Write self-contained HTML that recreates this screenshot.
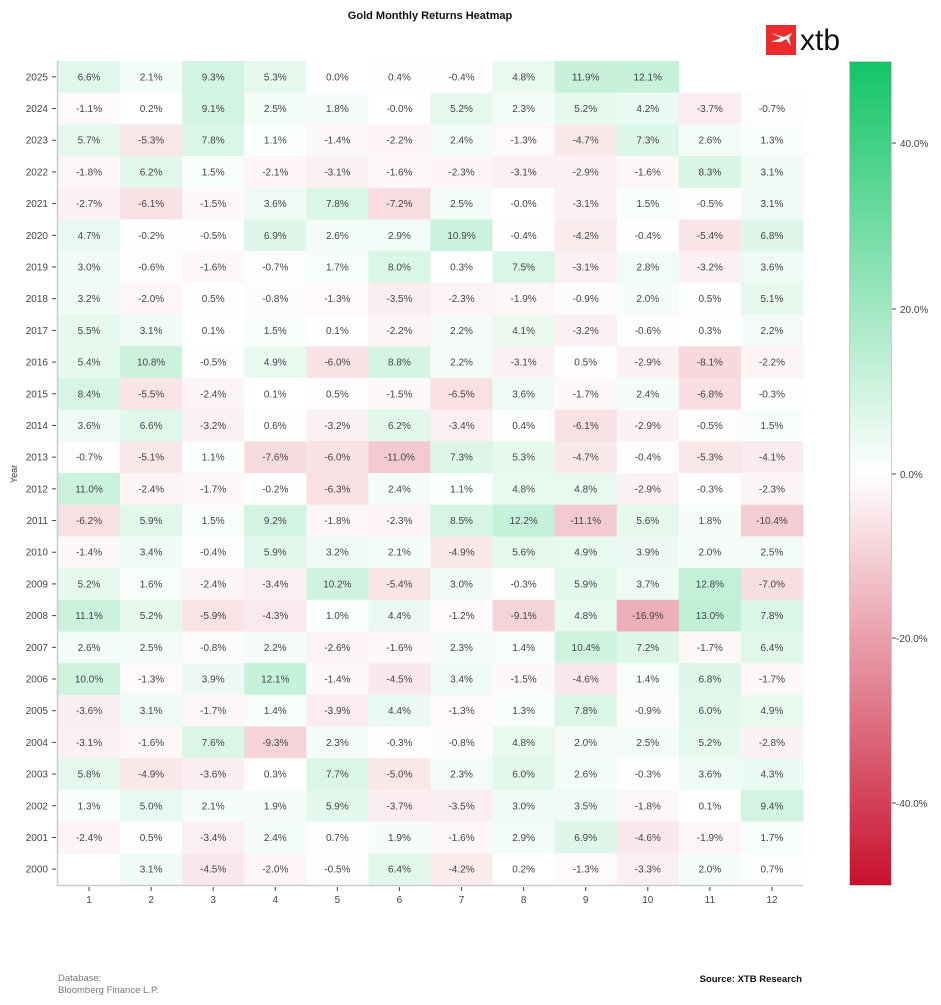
<!DOCTYPE html>
<html><head><meta charset="utf-8"><style>
body{margin:0;background:#fff;}
svg{display:block;font-family:"Liberation Sans",sans-serif;}
</style></head><body>
<svg id="s" width="941" height="1005" xmlns="http://www.w3.org/2000/svg">
<defs><linearGradient id="cb" x1="0" y1="0" x2="0" y2="1">
<stop offset="0" stop-color="#12c466"/><stop offset="0.5" stop-color="#ffffff"/><stop offset="1" stop-color="#c8102e"/></linearGradient></defs>
<text x="430" y="19" text-anchor="middle" font-size="11" font-weight="bold" fill="#111">Gold Monthly Returns Heatmap</text>
<rect x="766" y="25" width="30" height="30" fill="#ee2b2b"/>
<path d="M771 33 L781 38 L771 42 L781 42 L786 39 L791 46 L789 38 L792 33 L784 37 Z" fill="#fff"/>
<text x="800" y="50" font-size="30" fill="#111">xtb</text>
<text transform="translate(17,474) rotate(-90)" text-anchor="middle" font-size="9" fill="#333">Year</text>
<g id="cells"></g>
<line x1="57.5" y1="61" x2="57.5" y2="886" stroke="#ccc" stroke-width="1.5"/>
<line x1="57" y1="885.5" x2="803" y2="885.5" stroke="#ccc" stroke-width="1.5"/>
<rect x="849.5" y="61.5" width="42" height="824" fill="url(#cb)" stroke="#ccc"/>
<g font-size="10" fill="#444">
<line x1="892" y1="143" x2="896" y2="143" stroke="#444"/><text x="900" y="147">40.0%</text>
<line x1="892" y1="309" x2="896" y2="309" stroke="#444"/><text x="900" y="313">20.0%</text>
<line x1="892" y1="474" x2="896" y2="474" stroke="#444"/><text x="900" y="478">0.0%</text>
<line x1="892" y1="638" x2="896" y2="638" stroke="#444"/><text x="896" y="642">-20.0%</text>
<line x1="892" y1="803" x2="896" y2="803" stroke="#444"/><text x="896" y="807">-40.0%</text>
</g>
<text x="58" y="981" font-size="9.5" fill="#777">Database:</text>
<text x="58" y="993" font-size="9.5" fill="#777">Bloomberg Finance L.P.</text>
<text x="802" y="982" text-anchor="end" font-size="9.5" font-weight="bold" fill="#111">Source: XTB Research</text>
</svg>
<script>
var D=[
"6.6,2.1,9.3,5.3,0.0,0.4,-0.4,4.8,11.9,12.1,,",
"-1.1,0.2,9.1,2.5,1.8,-0.0,5.2,2.3,5.2,4.2,-3.7,-0.7",
"5.7,-5.3,7.8,1.1,-1.4,-2.2,2.4,-1.3,-4.7,7.3,2.6,1.3",
"-1.8,6.2,1.5,-2.1,-3.1,-1.6,-2.3,-3.1,-2.9,-1.6,8.3,3.1",
"-2.7,-6.1,-1.5,3.6,7.8,-7.2,2.5,-0.0,-3.1,1.5,-0.5,3.1",
"4.7,-0.2,-0.5,6.9,2.6,2.9,10.9,-0.4,-4.2,-0.4,-5.4,6.8",
"3.0,-0.6,-1.6,-0.7,1.7,8.0,0.3,7.5,-3.1,2.8,-3.2,3.6",
"3.2,-2.0,0.5,-0.8,-1.3,-3.5,-2.3,-1.9,-0.9,2.0,0.5,5.1",
"5.5,3.1,0.1,1.5,0.1,-2.2,2.2,4.1,-3.2,-0.6,0.3,2.2",
"5.4,10.8,-0.5,4.9,-6.0,8.8,2.2,-3.1,0.5,-2.9,-8.1,-2.2",
"8.4,-5.5,-2.4,0.1,0.5,-1.5,-6.5,3.6,-1.7,2.4,-6.8,-0.3",
"3.6,6.6,-3.2,0.6,-3.2,6.2,-3.4,0.4,-6.1,-2.9,-0.5,1.5",
"-0.7,-5.1,1.1,-7.6,-6.0,-11.0,7.3,5.3,-4.7,-0.4,-5.3,-4.1",
"11.0,-2.4,-1.7,-0.2,-6.3,2.4,1.1,4.8,4.8,-2.9,-0.3,-2.3",
"-6.2,5.9,1.5,9.2,-1.8,-2.3,8.5,12.2,-11.1,5.6,1.8,-10.4",
"-1.4,3.4,-0.4,5.9,3.2,2.1,-4.9,5.6,4.9,3.9,2.0,2.5",
"5.2,1.6,-2.4,-3.4,10.2,-5.4,3.0,-0.3,5.9,3.7,12.8,-7.0",
"11.1,5.2,-5.9,-4.3,1.0,4.4,-1.2,-9.1,4.8,-16.9,13.0,7.8",
"2.6,2.5,-0.8,2.2,-2.6,-1.6,2.3,1.4,10.4,7.2,-1.7,6.4",
"10.0,-1.3,3.9,12.1,-1.4,-4.5,3.4,-1.5,-4.6,1.4,6.8,-1.7",
"-3.6,3.1,-1.7,1.4,-3.9,4.4,-1.3,1.3,7.8,-0.9,6.0,4.9",
"-3.1,-1.6,7.6,-9.3,2.3,-0.3,-0.8,4.8,2.0,2.5,5.2,-2.8",
"5.8,-4.9,-3.6,0.3,7.7,-5.0,2.3,6.0,2.6,-0.3,3.6,4.3",
"1.3,5.0,2.1,1.9,5.9,-3.7,-3.5,3.0,3.5,-1.8,0.1,9.4",
"-2.4,0.5,-3.4,2.4,0.7,1.9,-1.6,2.9,6.9,-4.6,-1.9,1.7",
",3.1,-4.5,-2.0,-0.5,6.4,-4.2,0.2,-1.3,-3.3,2.0,0.7"];
var x0=58,y0=61,cw=(803-58)/12,rh=(885-61)/26,h="";
function col(v){var t=Math.min(1,Math.abs(v)/50),c=v>=0?[18,196,102]:[200,16,46];
return "rgb("+c.map(function(k){return Math.round(255-t*(255-k))}).join(",")+")";}
D.forEach(function(r,i){var y=y0+i*rh,yr=2025-i;
h+='<line x1="52" y1="'+(y+rh/2)+'" x2="56" y2="'+(y+rh/2)+'" stroke="#444"/><text x="48" y="'+(y+rh/2+3.5)+'" text-anchor="end" font-size="10" fill="#444">'+yr+'</text>';
r.split(",").forEach(function(s,j){if(s==="")return;var x=x0+j*cw,v=parseFloat(s);
h+='<rect x="'+x+'" y="'+y+'" width="'+(cw+0.5)+'" height="'+(rh+0.5)+'" fill="'+col(v)+'"/>';
h+='<text x="'+(x+cw/2)+'" y="'+(y+rh/2+3.5)+'" text-anchor="middle" font-size="10" fill="#444">'+s+'%</text>';});});
for(var j=0;j<12;j++){var x=x0+(j+.5)*cw;h+='<line x1="'+x+'" y1="887" x2="'+x+'" y2="891" stroke="#444"/><text x="'+x+'" y="903" text-anchor="middle" font-size="10" fill="#444">'+(j+1)+'</text>';}
document.getElementById("cells").innerHTML=h;
</script>
</body></html>
